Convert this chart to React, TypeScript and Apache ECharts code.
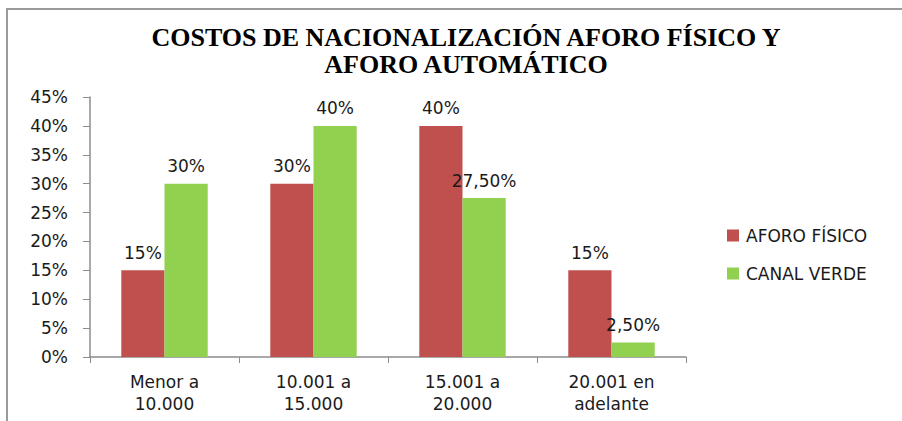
import React, { useEffect, useRef } from "react";
import * as echarts from "echarts";

const categories = ["Menor a\n10.000", "10.001 a\n15.000", "15.001 a\n20.000", "20.001 en\nadelante"];
const aforoFisico = [15, 30, 40, 15];
const canalVerde = [30, 40, 27.5, 2.5];
const yTicks = [0, 5, 10, 15, 20, 25, 30, 35, 40, 45];
const titleLines = ["COSTOS DE NACIONALIZACIÓN AFORO FÍSICO Y", "AFORO AUTOMÁTICO"];

const fmt = (v: number) =>
  Number.isInteger(v) ? `${v}%` : `${v.toFixed(2).replace(".", ",")}%`;

export default function App() {
  const ref = useRef<HTMLDivElement>(null);
  useEffect(() => {
    document.body.style.margin = "0";
    const chart = echarts.init(ref.current!, null, { renderer: "svg" });
    const axisColor = "#8c8c8c";
    const labelFont = { fontFamily: "DejaVu Sans", fontSize: 17, color: "#1a1a1a" };
    chart.setOption({
      animation: false,
      backgroundColor: "#ffffff",
      title: {
        text: titleLines.join("\n"),
        left: 461,
        top: 19,
        textAlign: "center",
        textStyle: {
          fontFamily: "Liberation Serif",
          fontWeight: "bold",
          fontSize: 26,
          lineHeight: 27,
          color: "#000",
        },
      },
      graphic: [
        {
          type: "rect",
          shape: { x: 7, y: 9, width: 1000, height: 500 },
          style: { fill: "none", stroke: "#9a9a9a", lineWidth: 2 },
          silent: true,
        },
      ],
      legend: {
        orient: "vertical",
        left: 722,
        top: 222,
        itemWidth: 12,
        itemHeight: 12,
        itemGap: 21,
        icon: "rect",
        textStyle: { ...labelFont, padding: [0, 0, 0, 2] },
        data: ["AFORO FÍSICO", "CANAL VERDE"],
      },
      grid: { left: 90, right: 216, top: 97, bottom: 64 },
      xAxis: {
        type: "category",
        data: categories,
        axisLine: { lineStyle: { color: axisColor, width: 1.5 } },
        axisTick: { show: true, length: 6, lineStyle: { color: axisColor } },
        axisLabel: { ...labelFont, margin: 14, lineHeight: 22, interval: 0 },
      },
      yAxis: {
        type: "value",
        min: 0,
        max: 45,
        interval: 5,
        splitLine: { show: false },
        axisLine: { show: true, lineStyle: { color: axisColor, width: 1.5 } },
        axisTick: { show: true, length: 7, lineStyle: { color: axisColor } },
        axisLabel: {
          ...labelFont,
          margin: 22,
          formatter: (v: number) => (yTicks.includes(v) ? `${v}%` : ""),
        },
      },
      series: [
        {
          name: "AFORO FÍSICO",
          type: "bar",
          data: aforoFisico,
          barGap: "0%",
          barCategoryGap: "42%",
          itemStyle: { color: "#C0504D" },
          label: {
            show: true,
            position: "top",
            distance: 9,
            ...labelFont,
            formatter: (p: any) => fmt(p.value),
          },
        },
        {
          name: "CANAL VERDE",
          type: "bar",
          data: canalVerde,
          itemStyle: { color: "#92D050" },
          label: {
            show: true,
            position: "top",
            distance: 9,
            ...labelFont,
            formatter: (p: any) => fmt(p.value),
          },
        },
      ],
    });
    return () => chart.dispose();
  }, []);
  return <div ref={ref} style={{ width: 902, height: 421 }} />;
}
